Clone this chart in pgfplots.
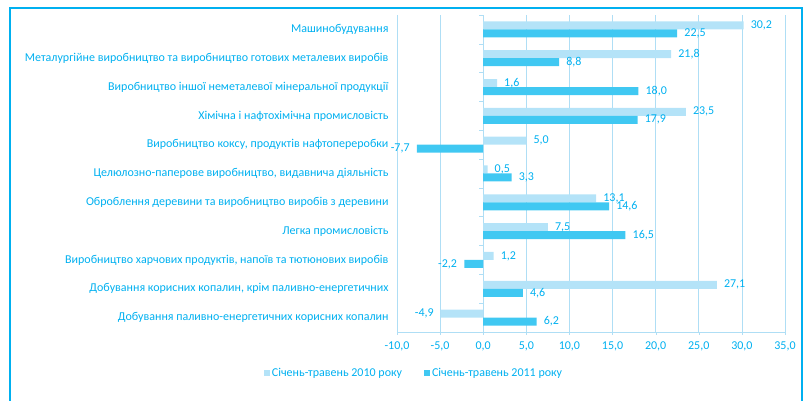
\documentclass[border=0pt]{standalone}
\usepackage{pgfplots}
\pgfplotsset{compat=1.18}
\usepackage{fontspec}
\setmainfont{Carlito}
\definecolor{txt}{RGB}{0,176,240}
\definecolor{lightbar}{RGB}{180,227,248}
\definecolor{darkbar}{RGB}{64,200,242}
\definecolor{gridc}{RGB}{175,222,245}
\definecolor{framec}{RGB}{0,176,240}
\begin{document}
\begin{tikzpicture}[x=1pt,y=1pt]
\useasboundingbox (0,0) rectangle (807,401);
\draw[framec, line width=2.5pt] (10,-20) -- (10,393) -- (802,393) -- (802,-20);
\begin{axis}[
  at={(397pt,69pt)}, anchor=south west,
  scale only axis, width=388pt, height=317pt,
  xbar, bar width=8pt,
  xmin=-10, xmax=35, xtick={-10,-5,...,35},
  ymin=-0.5, ymax=10.5,
  ytick={0,...,10},
  yticklabels={
    Добування паливно-енергетичних корисних копалин,
    {Добування корисних копалин, крім паливно-енергетичних},
    {Виробництво харчових продуктів, напоїв та тютюнових виробів},
    Легка промисловість,
    Оброблення деревини та виробництво виробів з деревини,
    {Целюлозно-паперове виробництво, видавнича діяльність},
    {Виробництво коксу, продуктів нафтопереробки},
    Хімічна і нафтохімічна промисловість,
    Виробництво іншої неметалевої мінеральної продукції,
    Металургійне виробництво та виробництво готових металевих виробів,
    Машинобудування},
  axis x line*=bottom, axis y line*=left,
  axis line style={gridc},
  ytick style={draw=none},
  xtick style={gridc},
  tick align=outside, major tick length=3pt,
  xmajorgrids, grid style={gridc, line width=0.6pt},
  tick label style={font=\fontsize{12}{14}\selectfont, text=txt},
  /pgf/number format/.cd, fixed, fixed zerofill, precision=1, use comma, assume math mode=true,
  /pgfplots/.cd,
  xticklabel style={yshift=-3pt},
  yticklabel style={xshift=-2pt},
  nodes near coords,
  nodes near coords align=horizontal,
  every node near coord/.append style={font=\fontsize{12}{14}\selectfont, text=txt, inner xsep=7pt,
    /pgf/number format/.cd, fixed, fixed zerofill, precision=1, use comma, assume math mode=true},
  legend columns=2,
  legend style={at={(0.044,-0.129)}, anchor=center, draw=none, fill=none,
    font=\fontsize{12}{14}\selectfont, text=txt,
    /tikz/every even column/.append style={column sep=20pt}},
  legend image code/.code={\fill[#1] (0pt,-3pt) rectangle (6pt,3pt);},
]
\addplot[fill=lightbar, draw=none, bar shift=4pt] coordinates {
  (-4.9,0) (27.1,1) (1.2,2) (7.5,3) (13.1,4) (0.5,5) (5.0,6) (23.5,7) (1.6,8) (21.8,9) (30.2,10)};
\addplot[fill=darkbar, draw=none, bar shift=-4pt] coordinates {
  (6.2,0) (4.6,1) (-2.2,2) (16.5,3) (14.6,4) (3.3,5) (-7.7,6) (17.9,7) (18.0,8) (8.8,9) (22.5,10)};
\legend{Січень-травень 2010 року, Січень-травень 2011 року}
\pgfplotsinvokeforeach{-0.5,0.5,...,10.5}{
  \draw[gridc, line width=0.6pt] (axis cs:0,#1) -- ([xshift=-4pt]axis cs:0,#1);
}
\end{axis}
\end{tikzpicture}
\end{document}
